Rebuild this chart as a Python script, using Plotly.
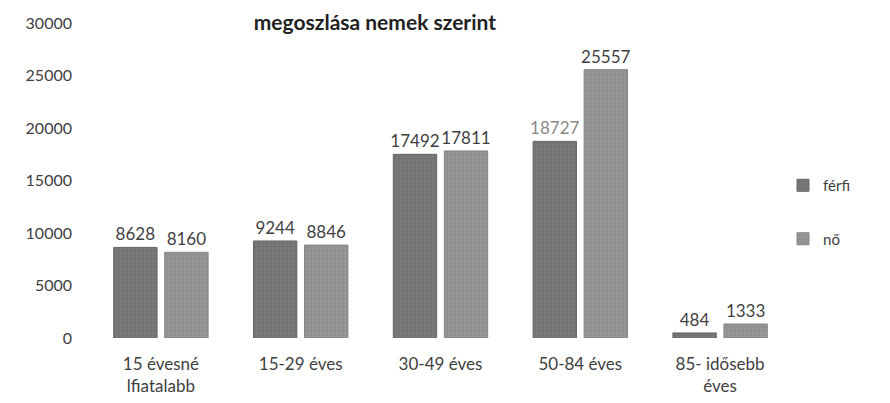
import plotly.graph_objects as go

categories = ["15 évesné<br>lfiatalabb", "15-29 éves", "30-49 éves", "50-84 éves", "85- idősebb<br>éves"]
ferfi = [8628, 9244, 17492, 18727, 484]
no = [8160, 8846, 17811, 25557, 1333]
ferfi_label_colors = ["#3f3f3f", "#3f3f3f", "#3f3f3f", "#8a8a8a", "#3f3f3f"]
no_label_colors = ["#3f3f3f"] * 5
y_ticks = [0, 5000, 10000, 15000, 20000, 25000, 30000]

FONT = "Lato, 'Open Sans', sans-serif"

fig = go.Figure()
fig.add_trace(go.Bar(
    name="férfi", x=categories, y=ferfi, legendgroup="a",
    marker=dict(color="#737373", line=dict(color="#666666", width=1),
                pattern=dict(shape=".", fgcolor="#888888", size=4, solidity=0.25)),
    text=[str(v) for v in ferfi], textposition="outside", cliponaxis=False,
    constraintext="none",
    textfont=dict(size=17, color=ferfi_label_colors, family=FONT),
))
fig.add_trace(go.Bar(
    name="nő", x=categories, y=no, legendgroup="b",
    marker=dict(color="#919191", line=dict(color="#858585", width=1),
                pattern=dict(shape=".", fgcolor="#a6a6a6", size=4, solidity=0.25)),
    text=[str(v) for v in no], textposition="outside", cliponaxis=False,
    constraintext="none",
    textfont=dict(size=17, color=no_label_colors, family=FONT),
))

fig.update_layout(
    width=882, height=395,
    margin=dict(l=83, r=100, t=15, b=65, autoexpand=False),
    plot_bgcolor="white", paper_bgcolor="white",
    barmode="group", bargap=0.27, bargroupgap=0.15,
    font=dict(family=FONT, size=16, color="#404040"),
    showlegend=True,
    legend=dict(x=0.99, y=0.40, xanchor="left", yanchor="middle",
                font=dict(size=15, color="#404040"), tracegroupgap=31,
                itemwidth=30),
    title=dict(text="<b>megoszlása nemek szerint</b>", x=0.416, xanchor="center",
               xref="container", y=0.982, yanchor="top", yref="container",
               pad=dict(t=0, b=0),
               font=dict(size=21, color="#222222", family=FONT)),
)
fig.update_xaxes(showgrid=False, showline=False, ticks="", ticklabelstandoff=14,
                 automargin=False, tickfont=dict(size=17, color="#404040"))
fig.update_yaxes(range=[0, 30000], tickvals=y_ticks, tickformat="d", showgrid=False,
                 showline=False, zeroline=False, ticks="", automargin=False,
                 ticklabeloverflow="allow",
                 tickfont=dict(size=16, color="#404040"), ticklabelstandoff=18)

fig.write_html("out.html")
